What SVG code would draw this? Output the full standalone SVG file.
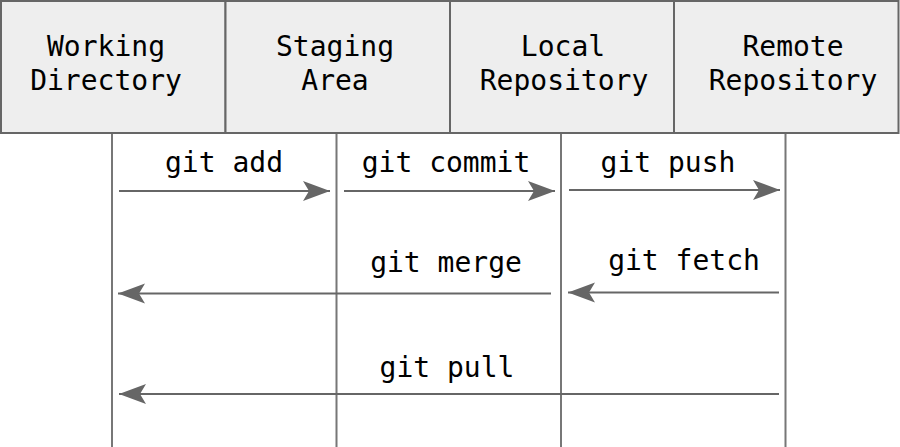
<svg xmlns="http://www.w3.org/2000/svg" width="900" height="447" viewBox="0 0 900 447">
<defs>
<style>
.box{fill:#eeeeee;stroke:#666666;stroke-width:2}
.life{stroke:#777777;stroke-width:2;fill:none}
.msg{stroke:#666666;stroke-width:2;fill:none}
text{font-family:"DejaVu Sans Mono","Liberation Mono",monospace;font-size:28px;fill:#000000;text-anchor:middle}
</style>
<marker id="ah" markerUnits="userSpaceOnUse" markerWidth="28" markerHeight="22" refX="27" refY="11" orient="auto" viewBox="0 0 28 22">
<path d="M0,1 L27,11 L0,21 L6,11 Z" fill="#666666"/>
</marker>
</defs>
<g id="lifelines">
<line class="life" x1="112" y1="133" x2="112" y2="447"/>
<line class="life" x1="336.5" y1="133" x2="336.5" y2="447"/>
<line class="life" x1="561" y1="133" x2="561" y2="447"/>
<line class="life" x1="785.5" y1="133" x2="785.5" y2="447"/>
</g>
<g id="working-directory">
<rect class="box" x="1" y="1" width="224.5" height="132"/>
<text x="106" y="56">Working</text>
<text x="106" y="90">Directory</text>
</g>
<g id="staging-area">
<rect class="box" x="225.5" y="1" width="224.5" height="132"/>
<text x="335" y="56">Staging</text>
<text x="335" y="90">Area</text>
</g>
<g id="local-repository">
<rect class="box" x="450" y="1" width="224" height="132"/>
<text x="563" y="56">Local</text>
<text x="564" y="90">Repository</text>
</g>
<g id="remote-repository">
<rect class="box" x="674" y="1" width="224.5" height="132"/>
<text x="793" y="56">Remote</text>
<text x="793" y="90">Repository</text>
</g>
<g id="connectors">
<line class="msg" x1="119" y1="191" x2="330" y2="191" marker-end="url(#ah)"/>
<text x="224" y="172">git add</text>
<line class="msg" x1="344" y1="191" x2="555" y2="191" marker-end="url(#ah)"/>
<text x="446" y="172">git commit</text>
<line class="msg" x1="569" y1="190" x2="780" y2="190" marker-end="url(#ah)"/>
<text x="668" y="172">git push</text>
<line class="msg" x1="551" y1="293.5" x2="118" y2="293.5" marker-end="url(#ah)"/>
<text x="446" y="272">git merge</text>
<line class="msg" x1="779" y1="292.5" x2="568" y2="292.5" marker-end="url(#ah)"/>
<text x="684" y="270">git fetch</text>
<line class="msg" x1="779" y1="394" x2="119" y2="394" marker-end="url(#ah)"/>
<text x="447" y="377">git pull</text>
</g>
</svg>
